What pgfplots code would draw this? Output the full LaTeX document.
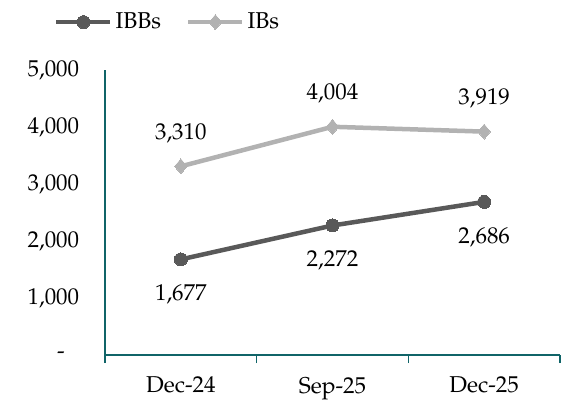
\documentclass[border=0pt]{standalone}
\usepackage{pgfplots}
\pgfplotsset{compat=1.18}
\usepackage{fontspec}
\setmainfont{TeX Gyre Pagella}
\definecolor{axisteal}{RGB}{16,100,104}
\definecolor{ibbgray}{RGB}{89,89,89}
\definecolor{ibgray}{RGB}{178,178,178}
\begin{document}
\fontsize{23}{27}\selectfont
\begin{tikzpicture}
\useasboundingbox (-105bp,-45bp) rectangle (466bp,355bp);
\begin{axis}[
  scale only axis, width=455bp, height=285bp,
  xmin=-0.5, xmax=2.5, ymin=0, ymax=5000,
  axis x line=bottom, axis y line=left,
  axis line style={axisteal, line width=1.6bp, -},
  xtick={0,1,2}, xticklabels={Dec-24,Sep-25,Dec-25},
  minor xtick={-0.5,0.5,1.5,2.5},
  major x tick style={draw=none},
  minor x tick style={axisteal, line width=1.6bp},
  minor tick length=8bp,
  major tick length=0bp,
  tick align=outside,
  xticklabel style={yshift=-14bp},
  ytick={0,1000,2000,3000,4000,5000},
  yticklabels={{\makebox[22bp][l]{-}},{1,000},{2,000},{3,000},{4,000},{5,000}},
  ytick style={draw=none},
  yticklabel style={xshift=-18bp},
  legend columns=2,
  legend style={at={(axis description cs:-0.112,1.168)}, anchor=west,
    draw=none, fill=none, inner sep=0pt,
    nodes={inner sep=3bp},
    /tikz/every even column/.append style={column sep=22bp}},
  legend image code/.code={\draw[mark repeat=2,mark phase=2,#1]
    plot coordinates {(0bp,0bp) (27bp,0bp) (54bp,0bp)};},
  clip=false,
]
\addplot[color=ibbgray, line width=4.5bp, mark=*, mark size=6.5bp,
  mark options={solid, fill=ibbgray, draw=ibbgray, line width=0pt},
  nodes near coords, point meta=explicit symbolic,
  every node near coord/.append style={anchor=center, yshift=-35bp, text=black}]
coordinates {(0,1677) [1,677] (1,2272) [2,272] (2,2686) [2,686]};
\addlegendentry{IBBs}
\addplot[color=ibgray, line width=4.5bp, mark=diamond*, mark size=7.5bp,
  mark options={solid, fill=ibgray, draw=ibgray, line width=0pt, xscale=1.1},
  nodes near coords, point meta=explicit symbolic,
  every node near coord/.append style={anchor=center, yshift=33bp, text=black}]
coordinates {(0,3310) [3,310] (1,4004) [4,004] (2,3919) [3,919]};
\addlegendentry{IBs}
\end{axis}
\end{tikzpicture}
\end{document}
